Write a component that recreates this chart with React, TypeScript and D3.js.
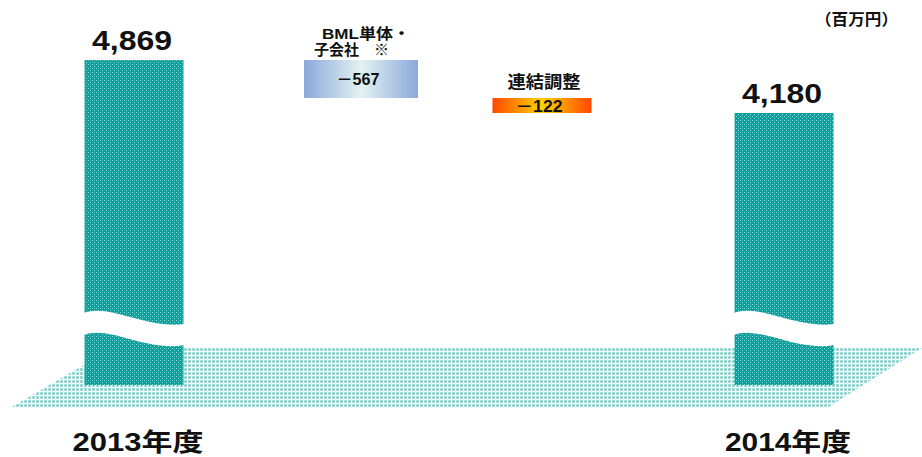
import React from "react";
import * as d3 from "d3";

// ---- data ----
const categories = ["2013年度", "BML単体・子会社 ※", "連結調整", "2014年度"];
const kinds = ["total", "delta", "delta", "total"];
const values = [4869, -567, -122, 4180];
const valueLabels = ["4,869", "－567", "－122", "4,180"];
const unitLabel = "（百万円）";

const W = 922;
const H = 457;
const FONT = "'Liberation Sans', Arial, 'Noto Sans CJK JP', sans-serif";

export default function App() {
  // vertical (broken-axis) scale
  const y = d3.scaleLinear().domain([4180, 4869]).range([113, 60]);
  const baseY = 385;
  const minStep = 15;

  const xCenter = d3
    .scaleOrdinal<string, number>()
    .domain(categories)
    .range([134, 361, 542, 784]);
  const widthOf = d3
    .scaleOrdinal<string, number>()
    .domain(categories)
    .range([99, 114, 99, 99]);

  // waterfall steps
  let running = 0;
  const steps = values.map((v, i) => {
    if (kinds[i] === "total") {
      running = v;
      return { start: 0, end: v };
    }
    const s = running;
    running = running + v;
    return { start: s, end: running };
  });

  // delta box pixel extents with a minimum visual height (work from the bottom up)
  const boxes: { top: number; bottom: number }[] = values.map(() => ({ top: 0, bottom: 0 }));
  let lowerTop = y(values[values.length - 1]);
  for (let i = values.length - 2; i >= 1; i--) {
    const st = steps[i];
    const bottom = i === values.length - 2 ? y(st.end) : lowerTop;
    let top = y(st.start);
    if (bottom - top < minStep) top = bottom - minStep;
    boxes[i] = { top, bottom };
    lowerTop = top;
  }
  boxes[1].top = y(steps[1].start);

  const floorPath = `M10,408 L113,348 L922,348 L827,408 Z`;

  const wave = (x0: number, x1: number) => {
    const w = x1 - x0;
    const up = `M${x0 - 1},${baseY - 72} C${x0 + w * 0.25},${baseY - 82} ${x0 + w * 0.62},${baseY - 56} ${x1 + 1},${baseY - 61}`;
    const low = `L${x1 + 1},${baseY - 40} C${x0 + w * 0.62},${baseY - 33} ${x0 + w * 0.25},${baseY - 60} ${x0 - 1},${baseY - 50} Z`;
    return up + " " + low;
  };

  return (
    <svg
      width={W}
      height={H}
      style={{ position: "absolute", left: 0, top: 0, background: "#fff" }}
      fontFamily={FONT}
    >
      <defs>
        <pattern id="barPat" width="4" height="4" patternUnits="userSpaceOnUse">
          <rect width="4" height="4" fill="#0fa09d" />
          <rect x="0" y="0" width="1" height="1" fill="#7fd6d2" />
          <rect x="2" y="2" width="1" height="1" fill="#7fd6d2" />
          <rect x="2" y="0" width="1" height="1" fill="#33b3af" />
        </pattern>
        <pattern id="floorPat" width="4" height="4" patternUnits="userSpaceOnUse">
          <rect width="4" height="4" fill="#a4dcd9" />
          <rect x="0" y="3" width="4" height="1" fill="#f2fbfa" />
          <rect x="3" y="0" width="1" height="4" fill="#f2fbfa" />
          <rect x="1" y="1" width="1" height="1" fill="#5cbfbb" />
        </pattern>
        <linearGradient id="bmlGrad" x1="0" x2="1" y1="0" y2="0">
          <stop offset="0" stopColor="#8ba8da" />
          <stop offset="0.5" stopColor="#e3f2f2" />
          <stop offset="1" stopColor="#8ba8da" />
        </linearGradient>
        <linearGradient id="adjGrad" x1="0" x2="1" y1="0" y2="0">
          <stop offset="0" stopColor="#ff4800" />
          <stop offset="0.5" stopColor="#ffd400" />
          <stop offset="1" stopColor="#ff4800" />
        </linearGradient>
      </defs>

      {/* floor */}
      <path d={floorPath} fill="url(#floorPat)" />

      {/* unit */}
      <text
        x={815}
        y={25}
        fontSize={16}
        fontWeight="bold"
        fill="#111"
        textLength={83}
        lengthAdjust="spacingAndGlyphs"
      >
        {unitLabel}
      </text>

      {categories.map((c, i) => {
        const cx = xCenter(c);
        const w = widthOf(c);
        const x0 = cx - w / 2;
        if (kinds[i] === "total") {
          const top = y(values[i]);
          return (
            <g key={c}>
              <rect x={x0} y={top} width={w} height={baseY - top} fill="url(#barPat)" />
              <path d={wave(x0, x0 + w)} fill="#fff" />
              <text
                x={cx - 2}
                y={top - 10}
                textAnchor="middle"
                fontSize={28}
                fontWeight="bold"
                fill="#111"
                textLength={80}
                lengthAdjust="spacingAndGlyphs"
              >
                {valueLabels[i]}
              </text>
              <text
                x={cx + 4}
                y={451}
                textAnchor="middle"
                fontSize={25}
                fontWeight="bold"
                fill="#111"
                textLength={i === 0 ? 131 : 126}
                lengthAdjust="spacingAndGlyphs"
              >
                {c}
              </text>
            </g>
          );
        }
        const b = boxes[i];
        const fill = i === 1 ? "url(#bmlGrad)" : "url(#adjGrad)";
        const mid = (b.top + b.bottom) / 2;
        return (
          <g key={c}>
            <rect x={x0} y={b.top} width={w} height={b.bottom - b.top} fill={fill} />
            <text
              x={cx - 3}
              y={mid + 6}
              textAnchor="middle"
              fontSize={16}
              fontWeight="bold"
              fill="#111"
              textLength={i === 1 ? 43 : 47}
              lengthAdjust="spacingAndGlyphs"
            >
              {valueLabels[i]}
            </text>
            {i === 1 ? (
              <>
                <text
                  x={cx - 39}
                  y={b.top - 21}
                  fontSize={15}
                  fontWeight="bold"
                  fill="#111"
                  textLength={88}
                  lengthAdjust="spacingAndGlyphs"
                >
                  BML単体・
                </text>
                <text x={cx - 47} y={b.top - 5} fontSize={15} fontWeight="bold" fill="#111">
                  子会社
                  <tspan dx={15}>※</tspan>
                </text>
              </>
            ) : (
              <text
                x={cx + 2}
                y={b.top - 10}
                textAnchor="middle"
                fontSize={17}
                fontWeight="bold"
                fill="#111"
                textLength={73}
                lengthAdjust="spacingAndGlyphs"
              >
                {c}
              </text>
            )}
          </g>
        );
      })}
    </svg>
  );
}
